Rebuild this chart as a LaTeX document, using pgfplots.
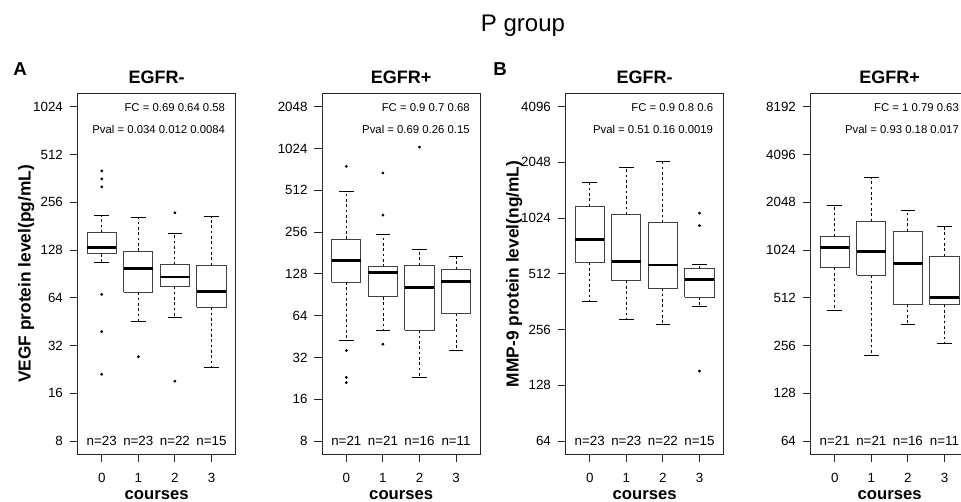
\documentclass[border=0pt]{standalone}
\usepackage{pgfplots}
\pgfplotsset{compat=1.18}
\usepackage{fontspec}
\setmainfont{Liberation Sans}
\pgfplotsset{
  boxst/.style={draw=black!75, line width=0.75pt},
  medst/.style={black, line width=2.2pt, line cap=butt},
  whst/.style={black, line width=0.6pt, dash pattern=on 2pt off 2pt},
  capst/.style={black, line width=0.75pt},
  outst/.style={black, only marks, mark=*, mark size=0.85pt, mark options={fill=black}},
}
\begin{document}
\begin{tikzpicture}
\node[font=\fontsize{18}{20}\selectfont, anchor=base] at (392.25pt,352.7pt) {P group};
\node[font=\fontsize{14}{16}\selectfont\bfseries] at (15pt,324.75pt) {A};
\node[font=\fontsize{14}{16}\selectfont\bfseries] at (375pt,324.75pt) {B};

% ---------- A, EGFR- ----------
\begin{axis}[at={(58.2pt,35.625pt)}, anchor=south west,
  scale only axis, width=118.5pt, height=270.9pt,
  xmin=-0.66, xmax=3.66, ymode=log,
  ymin=6.589, ymax=1243.4,
  xtick={0,1,2,3}, xticklabels={0,1,2,3},
  ytick={8,16,32,64,128,256,512,1024}, yticklabels={8,16,32,64,128,256,512,1024},
  minor tick num=0,
  tick pos=left, tick align=outside, major tick length=6pt,
  axis line style={line width=0.7pt, black!85},
  tick style={line width=0.7pt, black!85},
  tick label style={font=\fontsize{10}{12}\selectfont},
  xticklabel style={yshift=-4.5pt}, yticklabel style={xshift=-1.5pt},
  title={EGFR-},
  title style={font=\fontsize{13.5}{15}\selectfont\bfseries, at={(axis description cs:0.5,1)}, anchor=base, yshift=1.5pt},
  xlabel={courses},
  xlabel style={font=\fontsize{12.5}{14}\selectfont\bfseries, at={(axis description cs:0.5,0)}, anchor=base, yshift=-34.1pt},
  ylabel={VEGF protein level(pg/mL)},
  ylabel style={font=\fontsize{13}{15}\selectfont\bfseries, at={(axis description cs:0,0.5)}, anchor=center, yshift=38.5pt},
  clip=false, unbounded coords=jump]
\addplot[whst] coordinates {(0,165)(0,211)(0,nan)(0,121)(0,106)(0,nan)
  (1,126)(1,205)(1,nan)(1,69.2)(1,45.3)(1,nan)
  (2,103.4)(2,163.6)(2,nan)(2,75.5)(2,48.2)(2,nan)
  (3,102.3)(3,208)(3,nan)(3,55.7)(3,23.2)};
\addplot[capst] coordinates {(-0.2,211)(0.2,211)(0,nan)(-0.2,106)(0.2,106)(0,nan)
  (0.8,205)(1.2,205)(1,nan)(0.8,45.3)(1.2,45.3)(1,nan)
  (1.8,163.6)(2.2,163.6)(2,nan)(1.8,48.2)(2.2,48.2)(2,nan)
  (2.8,208)(3.2,208)(3,nan)(2.8,23.2)(3.2,23.2)};
\addplot[boxst] coordinates {(-0.4,121)(0.4,121)(0.4,165)(-0.4,165)(-0.4,121)(0,nan)
  (0.6,69.2)(1.4,69.2)(1.4,126)(0.6,126)(0.6,69.2)(1,nan)
  (1.6,75.5)(2.4,75.5)(2.4,103.4)(1.6,103.4)(1.6,75.5)(2,nan)
  (2.6,55.7)(3.4,55.7)(3.4,102.3)(2.6,102.3)(2.6,55.7)};
\addplot[medst] coordinates {(-0.4,133.6)(0.4,133.6)(0,nan)(0.6,98)(1.4,98)(1,nan)
  (1.6,86.5)(2.4,86.5)(2,nan)(2.6,70.2)(3.4,70.2)};
\addplot[outst] coordinates {(0,403)(0,359)(0,320)(0,67.2)(0,39.2)(0,21.1)(1,27.2)(2,219.6)(2,19.1)};
\node[anchor=east, inner sep=0pt, font=\fontsize{8.5}{10}\selectfont] at (rel axis cs:0.935,0.96) {FC = 0.69 0.64 0.58};
\node[anchor=east, inner sep=0pt, font=\fontsize{8.5}{10}\selectfont] at (rel axis cs:0.935,0.90) {Pval = 0.034 0.012 0.0084};
\node[font=\fontsize{10}{12}\selectfont] at (axis cs:0,8) {n=23};
\node[font=\fontsize{10}{12}\selectfont] at (axis cs:1,8) {n=23};
\node[font=\fontsize{10}{12}\selectfont] at (axis cs:2,8) {n=22};
\node[font=\fontsize{10}{12}\selectfont] at (axis cs:3,8) {n=15};
\end{axis}

% ---------- A, EGFR+ ----------
\begin{axis}[at={(241.65pt,35.625pt)}, anchor=south west,
  scale only axis, width=118.5pt, height=270.9pt,
  xmin=-0.66, xmax=3.66, ymode=log,
  ymin=6.408, ymax=2556.5,
  xtick={0,1,2,3}, xticklabels={0,1,2,3},
  ytick={8,16,32,64,128,256,512,1024,2048}, yticklabels={8,16,32,64,128,256,512,1024,2048},
  minor tick num=0,
  tick pos=left, tick align=outside, major tick length=6pt,
  axis line style={line width=0.7pt, black!85},
  tick style={line width=0.7pt, black!85},
  tick label style={font=\fontsize{10}{12}\selectfont},
  xticklabel style={yshift=-4.5pt}, yticklabel style={xshift=-1.5pt},
  title={EGFR+},
  title style={font=\fontsize{13.5}{15}\selectfont\bfseries, at={(axis description cs:0.5,1)}, anchor=base, yshift=1.5pt},
  xlabel={courses},
  xlabel style={font=\fontsize{12.5}{14}\selectfont\bfseries, at={(axis description cs:0.5,0)}, anchor=base, yshift=-34.1pt},
  clip=false, unbounded coords=jump]
\addplot[whst] coordinates {(0,228)(0,501)(0,nan)(0,111.6)(0,42.2)(0,nan)
  (1,143.7)(1,248)(1,nan)(1,87.5)(1,50.3)(1,nan)
  (2,147.8)(2,192)(2,nan)(2,50.3)(2,23)(2,nan)
  (3,137.7)(3,170.6)(3,nan)(3,66.6)(3,36.2)};
\addplot[capst] coordinates {(-0.2,501)(0.2,501)(0,nan)(-0.2,42.2)(0.2,42.2)(0,nan)
  (0.8,248)(1.2,248)(1,nan)(0.8,50.3)(1.2,50.3)(1,nan)
  (1.8,192)(2.2,192)(2,nan)(1.8,23)(2.2,23)(2,nan)
  (2.8,170.6)(3.2,170.6)(3,nan)(2.8,36.2)(3.2,36.2)};
\addplot[boxst] coordinates {(-0.4,111.6)(0.4,111.6)(0.4,228)(-0.4,228)(-0.4,111.6)(0,nan)
  (0.6,87.5)(1.4,87.5)(1.4,143.7)(0.6,143.7)(0.6,87.5)(1,nan)
  (1.6,50.3)(2.4,50.3)(2.4,147.8)(1.6,147.8)(1.6,50.3)(2,nan)
  (2.6,66.6)(3.4,66.6)(3.4,137.7)(2.6,137.7)(2.6,66.6)};
\addplot[medst] coordinates {(-0.4,161)(0.4,161)(0,nan)(0.6,131)(1.4,131)(1,nan)
  (1.6,101.6)(2.4,101.6)(2,nan)(2.6,112.9)(3.4,112.9)};
\addplot[outst] coordinates {(0,761)(0,35.9)(0,23)(0,21.1)(1,682)(1,339)(1,39.9)(2,1048)};
\node[anchor=east, inner sep=0pt, font=\fontsize{8.5}{10}\selectfont] at (rel axis cs:0.935,0.96) {FC = 0.9 0.7 0.68};
\node[anchor=east, inner sep=0pt, font=\fontsize{8.5}{10}\selectfont] at (rel axis cs:0.935,0.90) {Pval = 0.69 0.26 0.15};
\node[font=\fontsize{10}{12}\selectfont] at (axis cs:0,8) {n=21};
\node[font=\fontsize{10}{12}\selectfont] at (axis cs:1,8) {n=21};
\node[font=\fontsize{10}{12}\selectfont] at (axis cs:2,8) {n=16};
\node[font=\fontsize{10}{12}\selectfont] at (axis cs:3,8) {n=11};
\end{axis}

% ---------- B, EGFR- ----------
\begin{axis}[at={(424.2pt,35.625pt)}, anchor=south west,
  scale only axis, width=118.5pt, height=270.9pt,
  xmin=-0.66, xmax=3.66, ymode=log,
  ymin=54.19, ymax=4837.4,
  xtick={0,1,2,3}, xticklabels={0,1,2,3},
  ytick={64,128,256,512,1024,2048,4096}, yticklabels={64,128,256,512,1024,2048,4096},
  minor tick num=0,
  tick pos=left, tick align=outside, major tick length=6pt,
  axis line style={line width=0.7pt, black!85},
  tick style={line width=0.7pt, black!85},
  tick label style={font=\fontsize{10}{12}\selectfont},
  xticklabel style={yshift=-4.5pt}, yticklabel style={xshift=-1.5pt},
  title={EGFR-},
  title style={font=\fontsize{13.5}{15}\selectfont\bfseries, at={(axis description cs:0.5,1)}, anchor=base, yshift=1.5pt},
  xlabel={courses},
  xlabel style={font=\fontsize{12.5}{14}\selectfont\bfseries, at={(axis description cs:0.5,0)}, anchor=base, yshift=-34.1pt},
  ylabel={MMP-9 protein level(ng/mL)},
  ylabel style={font=\fontsize{13}{15}\selectfont\bfseries, at={(axis description cs:0,0.5)}, anchor=center, yshift=38.5pt},
  clip=false, unbounded coords=jump]
\addplot[whst] coordinates {(0,1188)(0,1594)(0,nan)(0,589)(0,361)(0,nan)
  (1,1071)(1,1912)(1,nan)(1,471)(1,292)(1,nan)
  (2,969)(2,2061)(2,nan)(2,428)(2,273)(2,nan)
  (3,547)(3,577)(3,nan)(3,384)(3,343)};
\addplot[capst] coordinates {(-0.2,1594)(0.2,1594)(0,nan)(-0.2,361)(0.2,361)(0,nan)
  (0.8,1912)(1.2,1912)(1,nan)(0.8,292)(1.2,292)(1,nan)
  (1.8,2061)(2.2,2061)(2,nan)(1.8,273)(2.2,273)(2,nan)
  (2.8,577)(3.2,577)(3,nan)(2.8,343)(3.2,343)};
\addplot[boxst] coordinates {(-0.4,589)(0.4,589)(0.4,1188)(-0.4,1188)(-0.4,589)(0,nan)
  (0.6,471)(1.4,471)(1.4,1071)(0.6,1071)(0.6,471)(1,nan)
  (1.6,428)(2.4,428)(2.4,969)(1.6,969)(1.6,428)(2,nan)
  (2.6,384)(3.4,384)(3.4,547)(2.6,547)(2.6,384)};
\addplot[medst] coordinates {(-0.4,781)(0.4,781)(0,nan)(0.6,594)(1.4,594)(1,nan)
  (1.6,572)(2.4,572)(2,nan)(2.6,477)(3.4,477)};
\addplot[outst] coordinates {(3,1089)(3,934)(3,153)};
\node[anchor=east, inner sep=0pt, font=\fontsize{8.5}{10}\selectfont] at (rel axis cs:0.935,0.96) {FC = 0.9 0.8 0.6};
\node[anchor=east, inner sep=0pt, font=\fontsize{8.5}{10}\selectfont] at (rel axis cs:0.935,0.90) {Pval = 0.51 0.16 0.0019};
\node[font=\fontsize{10}{12}\selectfont] at (axis cs:0,64) {n=23};
\node[font=\fontsize{10}{12}\selectfont] at (axis cs:1,64) {n=23};
\node[font=\fontsize{10}{12}\selectfont] at (axis cs:2,64) {n=22};
\node[font=\fontsize{10}{12}\selectfont] at (axis cs:3,64) {n=15};
\end{axis}

% ---------- B, EGFR+ ----------
\begin{axis}[at={(607.95pt,35.625pt)}, anchor=south west,
  scale only axis, width=118.5pt, height=270.9pt,
  xmin=-0.66, xmax=3.66, ymode=log,
  ymin=52.71, ymax=9946.7,
  xtick={0,1,2,3}, xticklabels={0,1,2,3},
  ytick={64,128,256,512,1024,2048,4096,8192}, yticklabels={64,128,256,512,1024,2048,4096,8192},
  minor tick num=0,
  tick pos=left, tick align=outside, major tick length=6pt,
  axis line style={line width=0.7pt, black!85},
  tick style={line width=0.7pt, black!85},
  tick label style={font=\fontsize{10}{12}\selectfont},
  xticklabel style={yshift=-4.5pt}, yticklabel style={xshift=-1.5pt},
  title={EGFR+},
  title style={font=\fontsize{13.5}{15}\selectfont\bfseries, at={(axis description cs:0.5,1)}, anchor=base, yshift=1.5pt},
  xlabel={courses},
  xlabel style={font=\fontsize{12.5}{14}\selectfont\bfseries, at={(axis description cs:0.5,0)}, anchor=base, yshift=-34.1pt},
  clip=false, unbounded coords=jump]
\addplot[whst] coordinates {(0,1240)(0,1944)(0,nan)(0,791)(0,428)(0,nan)
  (1,1555)(1,2916)(1,nan)(1,708)(1,223)(1,nan)
  (2,1345)(2,1824)(2,nan)(2,465)(2,349)(2,nan)
  (3,936)(3,1440)(3,nan)(3,463)(3,264)};
\addplot[capst] coordinates {(-0.2,1944)(0.2,1944)(0,nan)(-0.2,428)(0.2,428)(0,nan)
  (0.8,2916)(1.2,2916)(1,nan)(0.8,223)(1.2,223)(1,nan)
  (1.8,1824)(2.2,1824)(2,nan)(1.8,349)(2.2,349)(2,nan)
  (2.8,1440)(3.2,1440)(3,nan)(2.8,264)(3.2,264)};
\addplot[boxst] coordinates {(-0.4,791)(0.4,791)(0.4,1240)(-0.4,1240)(-0.4,791)(0,nan)
  (0.6,708)(1.4,708)(1.4,1555)(0.6,1555)(0.6,708)(1,nan)
  (1.6,465)(2.4,465)(2.4,1345)(1.6,1345)(1.6,465)(2,nan)
  (2.6,463)(3.4,463)(3.4,936)(2.6,936)(2.6,463)};
\addplot[medst] coordinates {(-0.4,1057)(0.4,1057)(0,nan)(0.6,997)(1.4,997)(1,nan)
  (1.6,838)(2.4,838)(2,nan)(2.6,517)(3.4,517)};
\node[anchor=east, inner sep=0pt, font=\fontsize{8.5}{10}\selectfont] at (rel axis cs:0.94,0.96) {FC = 1 0.79 0.63};
\node[anchor=east, inner sep=0pt, font=\fontsize{8.5}{10}\selectfont] at (rel axis cs:0.94,0.90) {Pval = 0.93 0.18 0.017};
\node[font=\fontsize{10}{12}\selectfont] at (axis cs:0,64) {n=21};
\node[font=\fontsize{10}{12}\selectfont] at (axis cs:1,64) {n=21};
\node[font=\fontsize{10}{12}\selectfont] at (axis cs:2,64) {n=16};
\node[font=\fontsize{10}{12}\selectfont] at (axis cs:3,64) {n=11};
\end{axis}

\pgfresetboundingbox
\path[use as bounding box] (0pt,0pt) rectangle (720.75pt,376.5pt);
\end{tikzpicture}
\end{document}
